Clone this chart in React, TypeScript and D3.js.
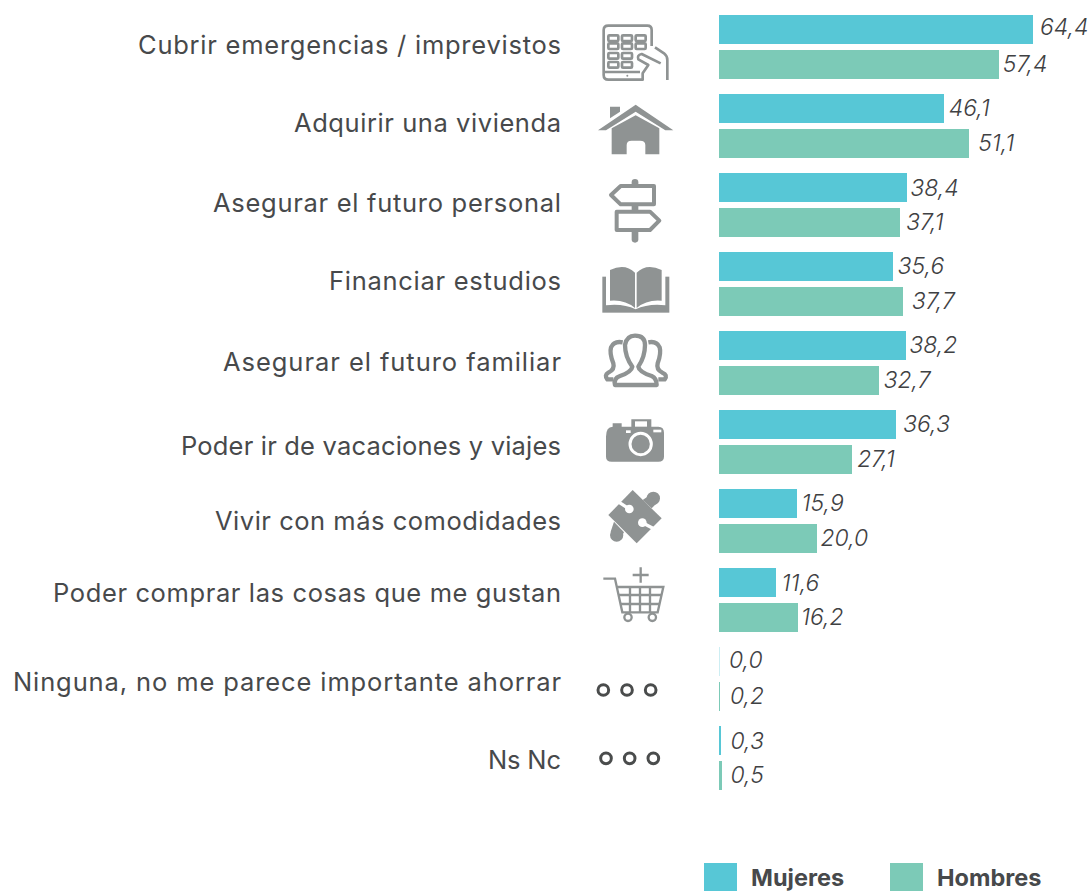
import React from "react";
import * as d3 from "d3";

const categories = [
  "Cubrir emergencias / imprevistos",
  "Adquirir una vivienda",
  "Asegurar el futuro personal",
  "Financiar estudios",
  "Asegurar el futuro familiar",
  "Poder ir de vacaciones y viajes",
  "Vivir con más comodidades",
  "Poder comprar las cosas que me gustan",
  "Ninguna, no me parece importante ahorrar",
  "Ns Nc",
];
const seriesNames = ["Mujeres", "Hombres"];
const mujeres = [64.4, 46.1, 38.4, 35.6, 38.2, 36.3, 15.9, 11.6, 0.0, 0.3];
const hombres = [57.4, 51.1, 37.1, 37.7, 32.7, 27.1, 20.0, 16.2, 0.2, 0.5];

// the labels in the original sit a little unevenly, and its font is not installed
const labelNudge = [0, -1, 0, -1, 1, 6, 2, -5, 5, 4];
const labelWidth = [423, 267, 348, 232, 338, 380, 346, 508, 548, 73];
const valueGapM = [7, 5, 4, 5, 4, 7, 5, 6, 10, 10];
const valueGapH = [4, 10, 6, 9, 5, 6, 4, 3, 10, 9];
const valueLiftM = [3, 1, 0, 1, 1, 1, 1, 0, 2, 0];

const colors = ["#57c7d6", "#7ccab7"];
const grey = "#8f9393";
const textColor = "#47494b";
const valueColor = "#3f4143";
const font = "Inter, sans-serif";

const x = d3.scaleLinear().domain([0, 64.4]).range([719, 1033]);
const y = d3.scaleBand().domain(categories).range([15, 790]).paddingInner(15 / 79).paddingOuter(0);
const inner = d3.scaleBand().domain(seriesNames).range([0, 64]).paddingInner(6 / 35);
const fmt = (v: number) => v.toFixed(1).replace(".", ",");

// icons are drawn in a 3x grid, hence the scale
const IconGroup = ({ ox, oy, children }: any) => (
  <g transform={`translate(${ox},${oy}) scale(${1 / 3})`}>{children}</g>
);

const Tablet = () => (
  <IconGroup ox={590} oy={10}>
    <g fill="none" stroke={grey} strokeWidth={8} strokeLinejoin="round">
      <path d="M185,108 V60 Q185,47 172,47 H55 Q41,47 41,60 V195 Q41,209 55,209 H158 L158,190 L175,165 L145,148 Q140,135 155,132 L212,160" />
      <path d="M42,186 H150" />
      <path d="M195,112 L222,130 Q232,138 232,150 V210" />
      {[84, 108, 137, 164].map((ky, r) =>
        [70, 111, 152].filter((_, c) => !(r === 2 && c === 2) && !(r === 3 && c === 2)).map((kx) => (
          <rect key={`${r}-${kx}`} x={kx - 15} y={ky - 8} width={30} height={17} rx={3} />
        ))
      )}
    </g>
    <circle cx={112} cy={197} r={3} fill={grey} />
  </IconGroup>
);

const House = () => (
  <IconGroup ox={590} oy={10}>
    <g fill={grey}>
      <path d="M60,290 H90 V305 L60,325 Z" />
      <path d="M24,361 L137,284 L250,361 H226 L137,305 L48,361 Z" />
      <path d="M65,355 L137,316 L208,355 V433 H166 V405 Q166,392 150,392 H125 Q110,392 110,405 V433 H65 Z" />
    </g>
  </IconGroup>
);

const Sign = () => (
  <IconGroup ox={590} oy={10}>
    <path d="M135,517 V688" stroke={grey} strokeWidth={20} strokeLinecap="round" />
    <g fill="#fff" stroke={grey} strokeWidth={12} strokeLinejoin="round">
      <path d="M63,555 L92,528 H192 V583 H92 Z" />
      <path d="M80,605 H180 L208,632 L180,660 H80 Z" />
    </g>
  </IconGroup>
);

const Book = () => (
  <IconGroup ox={590} oy={250}>
    <rect x={37} y={80} width={201} height={108} fill={grey} />
    <path d="M48,68 H226 V166 Q175,160 137,178 Q100,160 48,166 Z" fill="#fff" />
    <path d="M60,60 Q105,38 135,68 V174 Q105,148 60,152 Z" fill={grey} />
    <path d="M140,68 Q170,38 215,60 V152 Q170,148 140,174 Z" fill={grey} />
  </IconGroup>
);

const People = () => (
  <IconGroup ox={590} oy={250}>
    <g fill="none" stroke={grey} strokeWidth={13} strokeLinejoin="round">
      <path d="M75,405 Q70,385 90,378 Q125,365 127,350 Q105,320 105,285 Q110,257 135,257 Q165,257 165,285 Q165,320 145,350 Q147,365 185,378 Q200,385 200,405 Z" />
      <path d="M70,388 H52 Q42,375 55,368 Q75,358 70,340 Q58,310 63,292 Q72,272 98,277" />
      <path d="M205,388 H224 Q234,375 217,368 Q198,358 203,340 Q214,310 209,292 Q200,272 175,277" />
    </g>
  </IconGroup>
);

const Camera = () => (
  <IconGroup ox={590} oy={250}>
    <path d="M48,560 Q48,530 68,530 V520 H95 V530 H124 V508 H184 V530 H205 Q222,530 222,548 V620 Q222,635 205,635 H65 Q48,635 48,620 Z" fill={grey} />
    <rect x={135} y={514} width={36} height={16} fill="#fff" />
    <rect x={108} y={541} width={14} height={8} fill="#fff" />
    <rect x={190} y={539} width={24} height={8} fill="#fff" />
    <circle cx={152} cy={582} r={32} fill={grey} stroke="#fff" strokeWidth={9} />
  </IconGroup>
);

const Puzzle = () => (
  <IconGroup ox={600} oy={485}>
    <g fill={grey}>
      <path d="M98,15 L185,100 L110,175 L25,90 Z" />
      <circle cx={160} cy={40} r={20} />
      <circle cx={50} cy={150} r={20} />
      <path d="M128,45 L150,30 L170,55 L155,70 Z" />
      <path d="M42,110 L72,142 L58,165 L32,140 Z" />
    </g>
    <g fill="#fff">
      <circle cx={88} cy={72} r={13} />
      <circle cx={127} cy={113} r={13} />
    </g>
    <g stroke="#fff" strokeWidth={10}>
      <path d="M54,50 L85,70" />
      <path d="M163,132 L130,115" />
    </g>
  </IconGroup>
);

const Cart = () => (
  <IconGroup ox={590} oy={480}>
    <g fill="none" stroke={grey} strokeWidth={7}>
      <path d="M40,296 H75 L97,397 H203 L220,321 H82" />
      <path d="M87,345 H214 M92,372 H208" />
      <path d="M120,321 V397 M150,321 V397 M180,321 V397" />
      <path d="M152,262 V308 M128,285 H176" />
      <circle cx={114} cy={412} r={11} />
      <circle cx={187} cy={412} r={11} />
    </g>
  </IconGroup>
);

const Dots = ({ cxs, cy }: { cxs: number[]; cy: number }) => (
  <IconGroup ox={590} oy={480}>
    {cxs.map((cx) => (
      <circle key={cx} cx={cx} cy={cy} r={16} fill="none" stroke="#4a4c4c" strokeWidth={9} />
    ))}
  </IconGroup>
);

export default function App() {
  return (
    <svg width={1090} height={891} style={{ position: "absolute", left: 0, top: 0 }} fontFamily={font}>
      {categories.map((c, i) => {
        const y0 = y(c) as number;
        return (
          <g key={c}>
            <text x={561} y={y0 + 30 + labelNudge[i]} dy="0.36em" textAnchor="end" fontSize={25.5} textLength={labelWidth[i]} fill={textColor}>
              {c}
            </text>
            {[mujeres[i], hombres[i]].map((v, s) => {
              const by = y0 + (inner(seriesNames[s]) as number);
              const gap = s === 0 ? valueGapM[i] : valueGapH[i];
              const lift = s === 0 ? valueLiftM[i] : 1;
              // 0,0 still shows as a hairline in the original
              const bw = v === 0 ? 0.3 : Math.ceil(x(v) - x(0));
              return (
                <g key={s}>
                  <rect x={x(0)} y={by} width={bw} height={inner.bandwidth()} fill={colors[s]} />
                  <text x={x(v) + gap} y={by + inner.bandwidth() / 2 - lift} dy="0.38em" fontSize={23} fontWeight={300} fontStyle="italic" fill={valueColor}>
                    {fmt(v)}
                  </text>
                </g>
              );
            })}
          </g>
        );
      })}
      <Tablet />
      <House />
      <Sign />
      <Book />
      <People />
      <Camera />
      <Puzzle />
      <Cart />
      <Dots cxs={[40, 111, 182]} cy={630} />
      <Dots cxs={[48, 119, 190]} cy={835} />
      {seriesNames.map((s, i) => {
        const lx = i === 0 ? 704 : 890;
        return (
          <g key={s}>
            <rect x={lx} y={863} width={33} height={28} fill={colors[i]} />
            <text x={lx + 47} y={886} fontSize={23.5} fontWeight={700} fill={textColor}>
              {s}
            </text>
          </g>
        );
      })}
    </svg>
  );
}
